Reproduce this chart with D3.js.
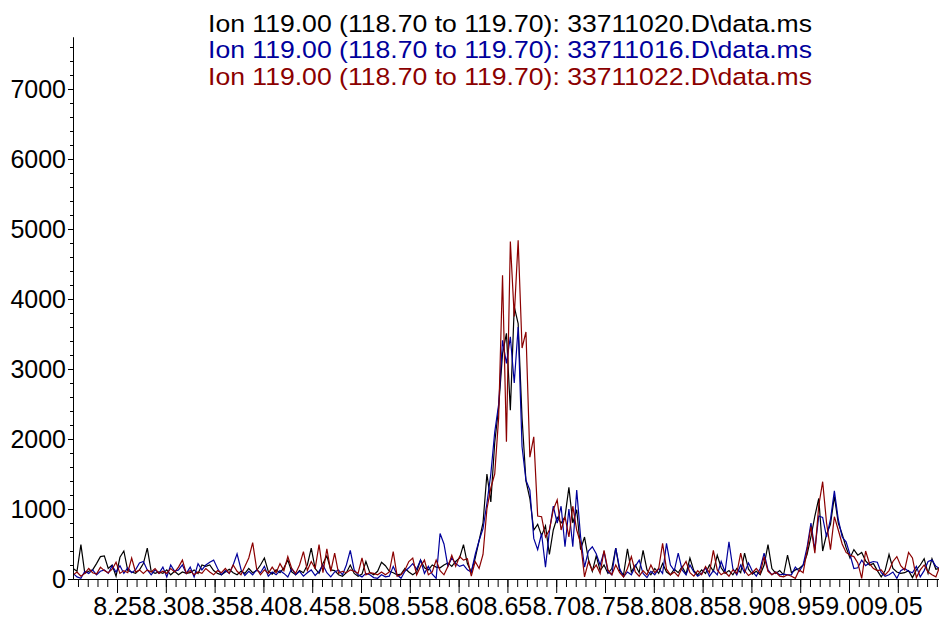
<!DOCTYPE html>
<html>
<head>
<meta charset="utf-8">
<script src="https://cdn.jsdelivr.net/npm/d3@7"></script>
<style>
  body { margin: 0; background: #fff; }
  svg { display: block; font-family: "Liberation Sans", Arial, sans-serif; }
  .axis text { font-size: 25px; fill: #000; }
  .axis path, .axis line { stroke: #000; }
</style>
</head>
<body>
<div id="chart"></div>
<script>
// Scan times: regular sampling of the run
const scanStart = 8.205;
const scanStep = 0.004;

// Abundance per scan
const black20 = [
  150,110,490,80,110,130,220,320,330,150,
  200,40,310,400,120,100,80,130,220,440,
  110,80,100,80,130,60,110,60,100,80,
  90,130,80,200,180,200,120,80,60,100,
  140,90,60,110,80,150,90,120,200,300,
  110,70,130,90,160,270,100,60,120,90,
  200,440,150,80,220,330,130,120,60,40,
  90,200,80,40,70,250,90,60,110,240,
  190,110,90,60,70,150,100,60,100,270,
  160,130,200,170,160,200,230,180,250,300,
  490,220,100,300,550,800,1500,1100,1950,2450,
  3220,3510,2410,3890,3650,2300,1400,1150,700,780,
  620,760,350,700,880,800,890,1310,800,990,
  420,600,280,110,330,120,200,80,150,440,
  120,60,430,100,200,90,410,130,60,150,
  80,220,100,60,140,90,180,70,300,120,
  60,130,80,200,110,340,160,80,120,60,
  150,90,370,140,70,110,60,200,490,150,
  80,120,60,340,90,130,150,200,350,600,
  900,1150,400,640,780,1180,800,640,450,300,
  420,340,380,260,200,220,120,30,120,350,
  150,100,80,90,120,20,130,200,290,80,
  290,140,150
];
const blue16 = [
  80,30,10,110,80,130,60,110,130,80,
  190,100,190,80,160,90,130,230,250,130,
  60,130,80,170,30,200,110,130,200,80,
  170,30,220,130,200,240,270,150,60,120,
  80,200,360,140,50,110,60,130,90,180,
  40,100,60,120,80,30,150,60,110,40,
  90,130,50,110,200,90,30,100,130,60,
  200,410,130,60,30,80,60,20,10,60,
  30,40,180,60,10,110,160,220,140,270,
  80,180,70,10,650,500,180,300,220,180,
  200,130,100,350,550,720,1080,1500,2100,2490,
  3410,3080,3460,2800,3600,1890,1410,1270,580,420,
  650,170,680,1040,800,1040,460,1000,460,1270,
  600,170,400,460,360,200,390,100,60,440,
  150,30,100,60,180,270,80,20,110,60,
  150,80,510,200,120,370,130,60,200,100,
  40,80,160,40,120,60,250,100,530,150,
  60,200,90,230,110,40,150,370,130,60,
  100,60,70,60,60,170,110,200,450,800,
  420,900,880,600,850,1260,850,600,530,350,
  150,160,270,190,230,250,240,90,40,60,
  100,10,120,150,110,90,180,30,120,250,
  270,180,150
];
const red22 = [
  60,100,40,80,150,90,70,170,120,90,
  140,240,80,120,90,300,100,130,80,130,
  100,150,80,110,80,150,100,170,270,80,
  120,60,100,80,150,100,60,120,90,150,
  80,200,110,60,180,300,520,150,60,130,
  80,170,90,220,120,320,150,80,200,390,
  120,250,150,490,90,430,110,370,80,110,
  90,130,110,80,300,60,90,80,60,100,
  60,100,390,40,60,130,250,300,60,180,
  270,60,100,270,120,60,180,340,180,320,
  270,290,40,250,150,350,1000,1300,1500,2300,
  4340,1960,4820,3750,4840,3300,3530,1740,2030,900,
  890,600,700,990,1130,700,890,600,1040,700,
  510,30,250,120,200,80,410,130,60,200,
  90,30,150,320,100,40,120,60,200,90,
  150,510,140,60,100,40,160,250,90,40,
  120,60,180,90,410,130,60,100,40,130,
  80,370,120,50,90,150,80,320,110,60,
  100,40,30,60,40,10,130,90,400,750,
  370,1050,1390,800,420,890,700,500,380,340,
  320,230,10,400,220,150,120,130,60,120,
  250,320,190,130,380,300,20,130,200,100,
  60,30,180
];

const seriesNames = [
  "Ion 119.00 (118.70 to 119.70): 33711020.D\\data.ms",
  "Ion 119.00 (118.70 to 119.70): 33711016.D\\data.ms",
  "Ion 119.00 (118.70 to 119.70): 33711022.D\\data.ms"
];
const seriesColors = ["#000000", "#00009c", "#8b0000"];
const seriesValues = [black20, blue16, red22];

const xTickValues = [8.25, 8.30, 8.35, 8.40, 8.45, 8.50, 8.55, 8.60, 8.65, 8.70, 8.75, 8.80, 8.85, 8.90, 8.95, 9.00, 9.05];
const yTickValues = [0, 1000, 2000, 3000, 4000, 5000, 6000, 7000];

// Set up dimensions
const width = 939;
const height = 618;
const plot = { left: 73, right: 939, top: 37, bottom: 579 };

// Set up scales
const xScale = d3.scaleLinear().domain([8.2049, 9.0922]).range([plot.left, plot.right]);
const yScale = d3.scaleLinear().domain([0, 7743]).range([plot.bottom, plot.top]);

const svg = d3.select("#chart").append("svg").attr("width", width).attr("height", height);

svg.append("clipPath").attr("id", "clip")
  .append("rect")
  .attr("x", plot.left).attr("y", 0)
  .attr("width", plot.right - plot.left).attr("height", plot.bottom + 1);

// Build series
const series = seriesValues.map((values, k) => ({
  name: seriesNames[k],
  color: seriesColors[k],
  points: values.map((v, i) => ({ t: scanStart + i * scanStep, v }))
}));

const line = d3.line().x((d) => xScale(d.t)).y((d) => yScale(d.v));

// Draw lines
svg.append("g")
  .attr("clip-path", "url(#clip)")
  .selectAll("path")
  .data(series)
  .join("path")
  .attr("fill", "none")
  .attr("stroke", (d) => d.color)
  .attr("stroke-width", 1.2)
  .attr("d", (d) => line(d.points));

// Minor x ticks
const xMinor = d3.range(8.21, 9.092, 0.01);
svg.append("g")
  .attr("class", "axis")
  .attr("transform", `translate(0,${plot.bottom})`)
  .call(d3.axisBottom(xScale).tickValues(xMinor).tickSize(8).tickSizeOuter(0).tickFormat(""));

// Major x ticks + labels
svg.append("g")
  .attr("class", "axis")
  .attr("transform", `translate(0,${plot.bottom})`)
  .call(d3.axisBottom(xScale).tickValues(xTickValues).tickSize(14).tickSizeOuter(0)
    .tickPadding(4).tickFormat(d3.format(".2f")));

// Minor y ticks
const yMinor = d3.range(0, 7700, 200);
svg.append("g")
  .attr("class", "axis")
  .attr("transform", `translate(${plot.left},0)`)
  .call(d3.axisLeft(yScale).tickValues(yMinor).tickSize(3).tickSizeOuter(0).tickFormat(""));

// Major y ticks + labels
svg.append("g")
  .attr("class", "axis")
  .attr("transform", `translate(${plot.left},0)`)
  .call(d3.axisLeft(yScale).tickValues(yTickValues).tickSize(5).tickSizeOuter(0)
    .tickPadding(2).tickFormat(d3.format("d")));

// Legend (glyphs in the original are slightly wide)
svg.append("g")
  .selectAll("text")
  .data(series)
  .join("text")
  .attr("x", 510)
  .attr("y", (d, i) => 31.5 + i * 26.6)
  .attr("text-anchor", "middle")
  .attr("font-size", 24.5)
  .attr("textLength", 604)
  .attr("lengthAdjust", "spacingAndGlyphs")
  .attr("fill", (d) => d.color)
  .text((d) => d.name);
</script>
</body>
</html>
